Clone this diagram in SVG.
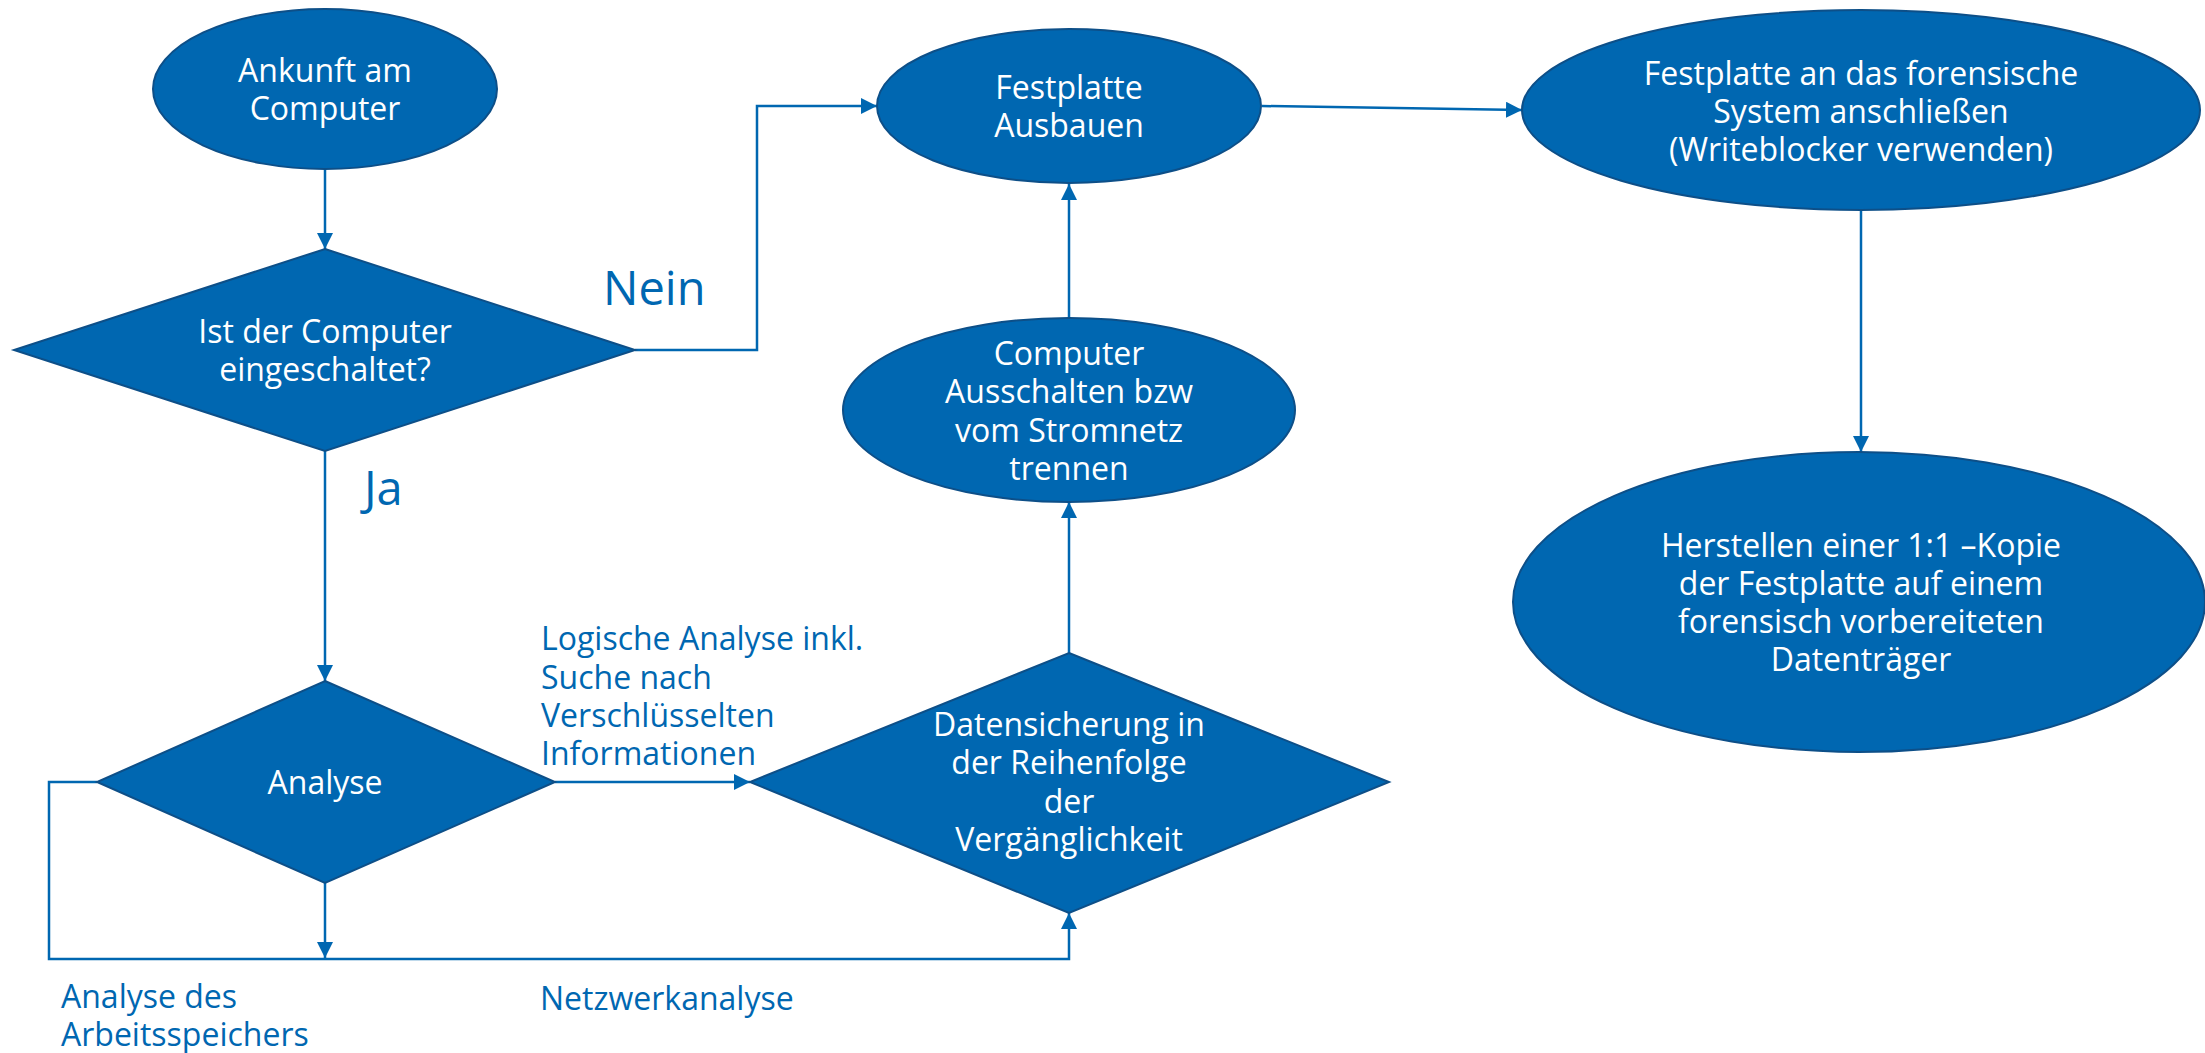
<svg xmlns="http://www.w3.org/2000/svg" width="2205" height="1053" viewBox="0 0 2205 1053">
  <style>
    .shape { fill: #0067b1; stroke: #0d4f88; stroke-width: 2; }
    .node-text { font-family: "Open Sans", "Noto Sans", "Liberation Sans", sans-serif; font-size: 32px; fill: #ffffff; text-anchor: middle; }
    .label { font-family: "Open Sans", "Noto Sans", "Liberation Sans", sans-serif; font-size: 32px; fill: #0067b1; }
    .big-label { font-family: "Open Sans", "Noto Sans", "Liberation Sans", sans-serif; font-size: 47px; fill: #0067b1; }
    .wire { fill: none; stroke: #0067b1; stroke-width: 2.5; marker-end: url(#arrow); }
  </style>
  <defs>
    <marker id="arrow" markerUnits="userSpaceOnUse" markerWidth="16" markerHeight="16" refX="16" refY="8" orient="auto">
      <path d="M0,0 L16,8 L0,16 Z" fill="#0067b1"/>
    </marker>
  </defs>
  <rect width="2205" height="1053" fill="#ffffff"/>

  <!-- connectors -->
  <g id="connectors">
    <path class="wire" d="M325,169 L325,249"/>
    <path class="wire" d="M635,350 L757,350 L757,106 L877,106"/>
    <path class="wire" d="M1262,106 L1522,110"/>
    <path class="wire" d="M1861,210 L1861,452"/>
    <path class="wire" d="M325,451 L325,681"/>
    <path class="wire" d="M555,782 L750,782"/>
    <path class="wire" d="M1069,653 L1069,502"/>
    <path class="wire" d="M1069,318 L1069,184"/>
    <path class="wire" d="M97,782 L49,782 L49,959 L1069,959 L1069,913"/>
    <path class="wire" d="M325,883 L325,958"/>
  </g>

  <!-- edge labels -->
  <g id="edge-labels">
    <text class="big-label" x="603" y="305">Nein</text>
    <text class="big-label" x="364" y="505">Ja</text>
    <text class="label" x="541" y="650">Logische Analyse inkl.</text>
    <text class="label" x="541" y="689">Suche nach</text>
    <text class="label" x="541" y="727">Verschlüsselten</text>
    <text class="label" x="541" y="765">Informationen</text>
    <text class="label" x="540" y="1010">Netzwerkanalyse</text>
    <text class="label" x="61" y="1008">Analyse des</text>
    <text class="label" x="61" y="1046">Arbeitsspeichers</text>
  </g>

  <g id="node-ankunft">
    <ellipse class="shape" cx="325" cy="89" rx="172" ry="80"/>
    <text class="node-text" x="325" y="82">Ankunft am</text>
    <text class="node-text" x="325" y="120">Computer</text>
  </g>

  <g id="node-eingeschaltet">
    <polygon class="shape" points="325,249 635,350 325,451 14,350"/>
    <text class="node-text" x="325" y="343">Ist der Computer</text>
    <text class="node-text" x="325" y="381">eingeschaltet?</text>
  </g>

  <g id="node-ausbauen">
    <ellipse class="shape" cx="1069" cy="106" rx="192" ry="77"/>
    <text class="node-text" x="1069" y="99">Festplatte</text>
    <text class="node-text" x="1069" y="137">Ausbauen</text>
  </g>

  <g id="node-ausschalten">
    <ellipse class="shape" cx="1069" cy="410" rx="226" ry="92"/>
    <text class="node-text" x="1069" y="365">Computer</text>
    <text class="node-text" x="1069" y="403">Ausschalten bzw</text>
    <text class="node-text" x="1069" y="442">vom Stromnetz</text>
    <text class="node-text" x="1069" y="480">trennen</text>
  </g>

  <g id="node-anschliessen">
    <ellipse class="shape" cx="1861" cy="110" rx="339" ry="100"/>
    <text class="node-text" x="1861" y="85">Festplatte an das forensische</text>
    <text class="node-text" x="1861" y="123">System anschließen</text>
    <text class="node-text" x="1861" y="161">(Writeblocker verwenden)</text>
  </g>

  <g id="node-kopie">
    <ellipse class="shape" cx="1859" cy="602" rx="346" ry="150"/>
    <text class="node-text" x="1861" y="557">Herstellen einer 1:1 –Kopie</text>
    <text class="node-text" x="1861" y="595">der Festplatte auf einem</text>
    <text class="node-text" x="1861" y="633">forensisch vorbereiteten</text>
    <text class="node-text" x="1861" y="671">Datenträger</text>
  </g>

  <g id="node-analyse">
    <polygon class="shape" points="325,681 555,782 325,883 97,782"/>
    <text class="node-text" x="325" y="794">Analyse</text>
  </g>

  <g id="node-datensicherung">
    <polygon class="shape" points="1069,653 1389,782 1069,913 750,782"/>
    <text class="node-text" x="1069" y="736">Datensicherung in</text>
    <text class="node-text" x="1069" y="774">der Reihenfolge</text>
    <text class="node-text" x="1069" y="813">der</text>
    <text class="node-text" x="1069" y="851">Vergänglichkeit</text>
  </g>
</svg>
